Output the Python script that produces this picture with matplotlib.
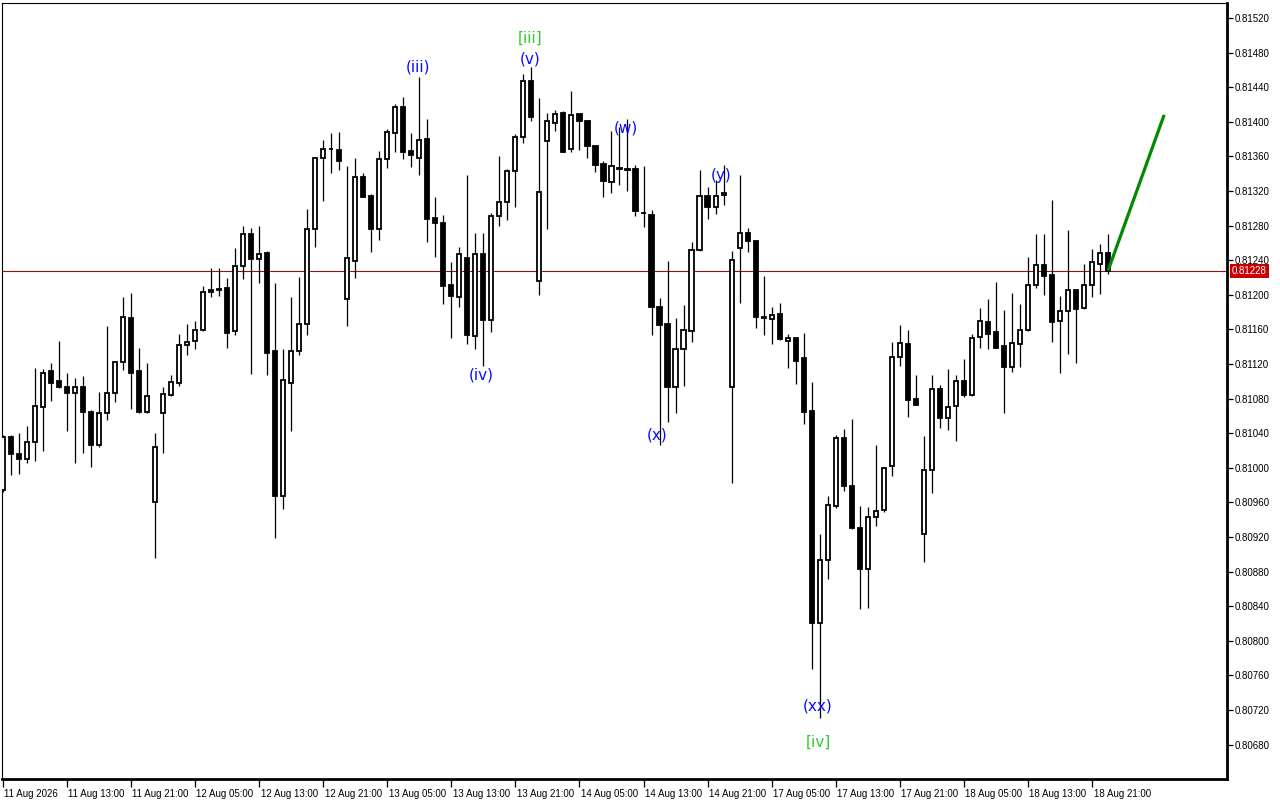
import matplotlib
matplotlib.use("Agg")
import matplotlib.pyplot as plt
import matplotlib.transforms as mtransforms
import numpy as np

# ---------------- data (hourly bars) ----------------
tick_labels = ["11 Aug 2026", "11 Aug 13:00", "11 Aug 21:00", "12 Aug 05:00",
               "12 Aug 13:00", "12 Aug 21:00", "13 Aug 05:00", "13 Aug 13:00",
               "13 Aug 21:00", "14 Aug 05:00", "14 Aug 13:00", "14 Aug 21:00",
               "17 Aug 05:00", "17 Aug 13:00", "17 Aug 21:00", "18 Aug 05:00",
               "18 Aug 13:00", "18 Aug 21:00"]
tick_every = 8

opens = [0.80974, 0.81036, 0.81016, 0.81010, 0.81030, 0.81070, 0.81112, 0.81100, 0.81094, 0.81086,
         0.81093, 0.81064, 0.81026, 0.81063, 0.81086, 0.81122, 0.81173, 0.81112, 0.81065, 0.80961,
         0.81063, 0.81084, 0.81098, 0.81142, 0.81147, 0.81159, 0.81203, 0.81206, 0.81208, 0.81158,
         0.81233, 0.81270, 0.81241, 0.81248, 0.81135, 0.80967, 0.81098, 0.81135, 0.81166, 0.81276,
         0.81358, 0.81368, 0.81367, 0.81195, 0.81239, 0.81336, 0.81314, 0.81276, 0.81357, 0.81387,
         0.81417, 0.81366, 0.81358, 0.81380, 0.81289, 0.81283, 0.81211, 0.81198, 0.81242, 0.81152,
         0.81247, 0.81171, 0.81291, 0.81307, 0.81343, 0.81382, 0.81447, 0.81216, 0.81378, 0.81399,
         0.81410, 0.81368, 0.81409, 0.81401, 0.81372, 0.81351, 0.81330, 0.81346, 0.81345, 0.81346,
         0.81295, 0.81292, 0.81186, 0.81166, 0.81093, 0.81137, 0.81158, 0.81252, 0.81314, 0.81301,
         0.81315, 0.81093, 0.81254, 0.81272, 0.81262, 0.81174, 0.81172, 0.81178, 0.81147, 0.81150,
         0.81127, 0.81066, 0.80821, 0.80893, 0.80956, 0.81035, 0.80979, 0.80930, 0.80883, 0.80943,
         0.80951, 0.81002, 0.81128, 0.81143, 0.81079, 0.80923, 0.80998, 0.81091, 0.81058, 0.81071,
         0.81100, 0.81084, 0.81151, 0.81169, 0.81157, 0.81141, 0.81117, 0.81143, 0.81159, 0.81211,
         0.81234, 0.81223, 0.81170, 0.81181, 0.81206, 0.81185, 0.81211, 0.81236, 0.81248]
highs = [0.81038, 0.81038, 0.81040, 0.81048, 0.81115, 0.81114, 0.81121, 0.81147, 0.81110, 0.81104,
         0.81106, 0.81067, 0.81088, 0.81164, 0.81124, 0.81198, 0.81202, 0.81139, 0.81121, 0.81040,
         0.81093, 0.81107, 0.81155, 0.81166, 0.81170, 0.81210, 0.81231, 0.81231, 0.81219, 0.81254,
         0.81280, 0.81277, 0.81280, 0.81251, 0.81214, 0.81137, 0.81198, 0.81221, 0.81299, 0.81359,
         0.81379, 0.81387, 0.81388, 0.81349, 0.81358, 0.81341, 0.81317, 0.81366, 0.81392, 0.81421,
         0.81429, 0.81387, 0.81452, 0.81403, 0.81313, 0.81292, 0.81238, 0.81255, 0.81338, 0.81271,
         0.81271, 0.81295, 0.81360, 0.81346, 0.81386, 0.81455, 0.81463, 0.81428, 0.81410, 0.81414,
         0.81413, 0.81436, 0.81409, 0.81402, 0.81373, 0.81355, 0.81389, 0.81394, 0.81403, 0.81350,
         0.81349, 0.81298, 0.81196, 0.81239, 0.81173, 0.81188, 0.81261, 0.81344, 0.81325, 0.81333,
         0.81350, 0.81251, 0.81338, 0.81277, 0.81262, 0.81222, 0.81186, 0.81190, 0.81155, 0.81150,
         0.81156, 0.81099, 0.80923, 0.80968, 0.81038, 0.81045, 0.81056, 0.80956, 0.80955, 0.81026,
         0.81000, 0.81145, 0.81165, 0.81159, 0.81107, 0.81037, 0.81107, 0.81096, 0.81114, 0.81107,
         0.81126, 0.81155, 0.81185, 0.81195, 0.81215, 0.81182, 0.81202, 0.81189, 0.81244, 0.81270,
         0.81270, 0.81310, 0.81199, 0.81275, 0.81207, 0.81236, 0.81253, 0.81259, 0.81270]
lows = [0.80972, 0.80992, 0.80993, 0.81006, 0.81008, 0.81020, 0.81077, 0.81092, 0.81042, 0.81005,
        0.81017, 0.81001, 0.81024, 0.81055, 0.81076, 0.81113, 0.81068, 0.81063, 0.81063, 0.80896,
        0.81017, 0.81083, 0.81095, 0.81130, 0.81137, 0.81158, 0.81197, 0.81199, 0.81138, 0.81154,
        0.81218, 0.81108, 0.81214, 0.81107, 0.80919, 0.80952, 0.81043, 0.81130, 0.81153, 0.81255,
        0.81309, 0.81341, 0.81344, 0.81164, 0.81220, 0.81313, 0.81249, 0.81263, 0.81347, 0.81365,
        0.81357, 0.81348, 0.81338, 0.81261, 0.81244, 0.81189, 0.81150, 0.81186, 0.81143, 0.81137,
        0.81118, 0.81157, 0.81280, 0.81286, 0.81302, 0.81376, 0.81401, 0.81200, 0.81276, 0.81389,
        0.81365, 0.81365, 0.81367, 0.81358, 0.81342, 0.81313, 0.81318, 0.81327, 0.81320, 0.81291,
        0.81278, 0.81154, 0.81026, 0.81053, 0.81063, 0.81095, 0.81145, 0.81251, 0.81288, 0.81293,
        0.81304, 0.80982, 0.81191, 0.81249, 0.81162, 0.81154, 0.81143, 0.81148, 0.81115, 0.81097,
        0.81051, 0.80767, 0.80711, 0.80872, 0.80953, 0.80973, 0.80929, 0.80837, 0.80838, 0.80933,
        0.80949, 0.80991, 0.81118, 0.81059, 0.81073, 0.80891, 0.80971, 0.81046, 0.81044, 0.81031,
        0.81082, 0.81083, 0.81138, 0.81137, 0.81138, 0.81063, 0.81111, 0.81117, 0.81158, 0.81208,
        0.81200, 0.81145, 0.81110, 0.81132, 0.81121, 0.81184, 0.81197, 0.81201, 0.81224]
closes = [0.81036, 0.81016, 0.81010, 0.81030, 0.81072, 0.81110, 0.81098, 0.81093, 0.81086, 0.81093,
          0.81064, 0.81026, 0.81063, 0.81086, 0.81122, 0.81174, 0.81110, 0.81065, 0.81083, 0.81024,
          0.81085, 0.81099, 0.81142, 0.81146, 0.81159, 0.81203, 0.81206, 0.81207, 0.81156, 0.81233,
          0.81270, 0.81241, 0.81247, 0.81133, 0.80967, 0.81102, 0.81135, 0.81166, 0.81276, 0.81358,
          0.81368, 0.81369, 0.81355, 0.81243, 0.81336, 0.81313, 0.81276, 0.81357, 0.81388, 0.81417,
          0.81365, 0.81362, 0.81379, 0.81288, 0.81283, 0.81210, 0.81199, 0.81247, 0.81153, 0.81247,
          0.81171, 0.81291, 0.81307, 0.81343, 0.81383, 0.81447, 0.81405, 0.81319, 0.81401, 0.81409,
          0.81365, 0.81408, 0.81401, 0.81372, 0.81350, 0.81331, 0.81349, 0.81347, 0.81344, 0.81297,
          0.81294, 0.81186, 0.81165, 0.81093, 0.81137, 0.81159, 0.81252, 0.81314, 0.81301, 0.81314,
          0.81318, 0.81240, 0.81271, 0.81262, 0.81174, 0.81173, 0.81177, 0.81149, 0.81150, 0.81124,
          0.81064, 0.80821, 0.80894, 0.80957, 0.81035, 0.80979, 0.80930, 0.80883, 0.80943, 0.80950,
          0.81000, 0.81128, 0.81144, 0.81078, 0.81073, 0.80998, 0.81091, 0.81058, 0.81070, 0.81100,
          0.81084, 0.81150, 0.81170, 0.81155, 0.81139, 0.81116, 0.81144, 0.81159, 0.81211, 0.81234,
          0.81222, 0.81169, 0.81181, 0.81206, 0.81184, 0.81211, 0.81238, 0.81248, 0.81228]

current_price = 0.81228
forecast_x = [138, 145]
forecast_y = [0.81228, 0.81408]

wave_labels = ["(iii)", "[iii]", "(v)", "(iv)", "(w)", "(x)", "(y)", "(xx)", "[iv]"]
wave_x = [51.9, 65.9, 65.9, 59.7, 77.8, 81.7, 89.7, 101.7, 101.8]
wave_y = [0.81463, 0.81497, 0.81473, 0.81107, 0.81393, 0.81038, 0.81338, 0.80725, 0.80683]
wave_colors = ["#0a0aff", "#33cc33", "#0a0aff", "#0a0aff", "#0a0aff", "#0a0aff",
               "#0a0aff", "#0a0aff", "#33cc33"]

y_ticks = [0.80680 + 0.0004 * k for k in range(22)]

# ---------------- figure ----------------
W, H = 1280, 800
fig = plt.figure(figsize=(W / 100, H / 100), dpi=100, facecolor="white")
ax_left, ax_right, ax_top, ax_bottom = 2, 1227, 3, 779
ax = fig.add_axes([ax_left / W, (H - ax_bottom) / H,
                   (ax_right - ax_left) / W, (ax_bottom - ax_top) / H])
ax.set_facecolor("white")

o = np.array(opens); h = np.array(highs); l = np.array(lows); c = np.array(closes)
x = np.arange(len(o))
up = c >= o

ax.vlines(x, l, h, color="black", lw=0.9, zorder=2)
bottom = np.minimum(o, c)
height = np.maximum(np.abs(c - o), 0.0000035)
ax.bar(x[up], height[up], bottom=bottom[up], width=0.52, facecolor="white",
       edgecolor="black", lw=1.3, zorder=3)
ax.bar(x[~up], height[~up], bottom=bottom[~up], width=0.52, facecolor="black",
       edgecolor="black", lw=1.3, zorder=3)

# current price line
ax.axhline(current_price, color="#8a1515", lw=0.8, zorder=1)

# forecast line
ax.plot(forecast_x, forecast_y, color="#008a00", lw=2.3, zorder=5,
        solid_capstyle="butt")

# wave labels
for t, xx, yy, col in zip(wave_labels, wave_x, wave_y, wave_colors):
    ax.text(xx, yy, t, color=col, fontsize=11, ha="center", va="center",
            family="DejaVu Sans", zorder=6)

# scales
px_per_bar = 8.01
x0 = -0.7 / px_per_bar
ax.set_xlim(x0, x0 + (ax_right - ax_left) / px_per_bar)
ppx = 1.156e-5  # price per pixel
ax.set_ylim(0.815408 - ppx * ax_bottom, 0.815408 - ppx * ax_top)

# right price axis
ax.yaxis.tick_right()
ax.set_yticks(y_ticks)
ax.set_yticklabels([f"{v:.5f}" for v in y_ticks])
ax.tick_params(axis="y", direction="out", length=4, width=0.9, pad=1.5,
               labelsize=7, colors="black")
for lab in ax.get_yticklabels():
    lab.set_family("Liberation Sans")

# bottom time axis
xt = [i * tick_every for i in range(len(tick_labels))]
ax.set_xticks(xt)
ax.set_xticklabels(tick_labels, ha="left")
ax.tick_params(axis="x", direction="out", length=6, width=0.9, pad=1,
               labelsize=7, colors="black")
offset = mtransforms.ScaledTranslation(1.5 / 100, 0, fig.dpi_scale_trans)
for lab in ax.get_xticklabels():
    lab.set_family("Liberation Sans")
    lab.set_transform(lab.get_transform() + offset)

for side, lw in (("left", 0.8), ("top", 0.8), ("right", 2.0), ("bottom", 2.0)):
    ax.spines[side].set_linewidth(lw)
    ax.spines[side].set_color("black")

# price tag on axis
trans = mtransforms.blended_transform_factory(ax.transAxes, ax.transData)
ax.text(1.0 + 5 / (ax_right - ax_left), current_price, f"{current_price:.5f}",
        transform=trans, ha="left", va="center", fontsize=7, color="white",
        family="Liberation Sans", zorder=10, clip_on=False,
        bbox=dict(boxstyle="square,pad=0.2", fc="#c80000", ec="none"))

fig.savefig("out.png", dpi=100, facecolor="white")
